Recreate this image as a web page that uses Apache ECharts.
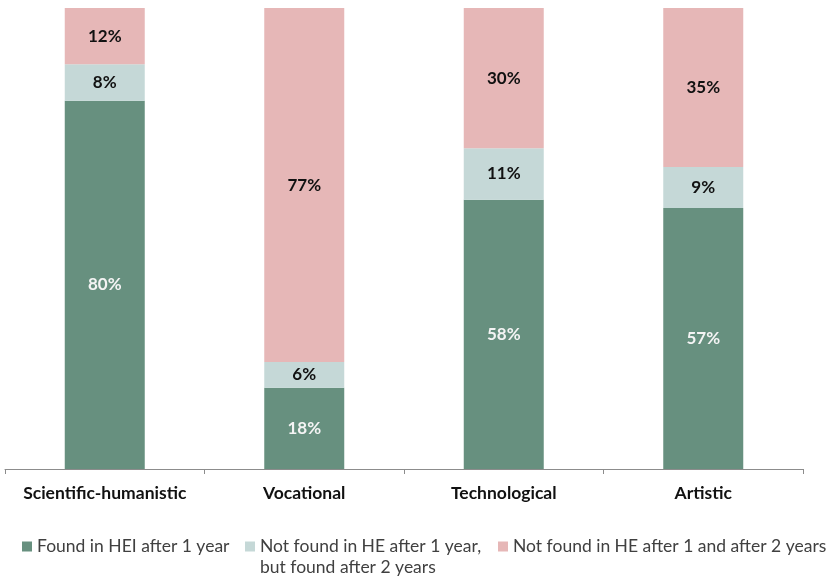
<!DOCTYPE html>
<html>
<head>
<meta charset="utf-8">
<script src="https://cdn.jsdelivr.net/npm/echarts@6/dist/echarts.min.js"></script>
<style>
  html, body { margin: 0; padding: 0; background: #fff; }
  #chart { width: 837px; height: 576px; }
</style>
</head>
<body>
<div id="chart"></div>
<script>
var categories = ['Scientific-humanistic', 'Vocational', 'Technological', 'Artistic'];
var seriesNames = [
  'Found in HEI after 1 year',
  'Not found in HE after 1 year, but found after 2 years',
  'Not found in HE after 1 and after 2 years'
];
var foundAfter1 = [79.9, 17.6, 58.4, 56.6];
var foundAfter2 = [7.9, 5.6, 11.2, 8.9];
var notFound = [12.2, 76.8, 30.4, 34.5];

var colors = ['#67907F', '#C5D8D7', '#E6B7B7'];
var labelColors = ['#F4F4F4', '#111111', '#111111'];
var FONT = 'Lato, "Open Sans", sans-serif';

var chart = echarts.init(document.getElementById('chart'), null, { renderer: 'canvas' });

function mkSeries(i, data) {
  return {
    name: seriesNames[i],
    type: 'bar',
    stack: 'total',
    data: data,
    barWidth: 80,
    itemStyle: { color: colors[i] },
    label: {
      show: true,
      position: 'inside',
      color: labelColors[i],
      fontFamily: FONT,
      fontWeight: 'bold',
      fontSize: 17,
      formatter: function (p) { return Math.round(p.value) + '%'; }
    },
    emphasis: { disabled: true }
  };
}

var legendText = {
  fontFamily: FONT,
  fontSize: 17.5,
  color: '#404040',
  lineHeight: 21
};

chart.setOption({
  animation: false,
  grid: { left: 5, right: 34, top: 8, bottom: 107, containLabel: false },
  xAxis: {
    type: 'category',
    data: categories,
    axisLine: { lineStyle: { color: '#8C8C8C', width: 1 } },
    axisTick: { show: true, interval: 0, length: 5, lineStyle: { color: '#8C8C8C' } },
    axisLabel: {
      interval: 0,
      hideOverlap: false,
      color: '#111111',
      fontFamily: FONT,
      fontWeight: 'bold',
      fontSize: 17.5,
      margin: 15
    }
  },
  yAxis: {
    type: 'value',
    min: 0,
    max: 100,
    show: false,
    splitLine: { show: false }
  },
  legend: [
    {
      data: [seriesNames[0]],
      left: 22, top: 536, padding: 0,
      itemWidth: 10, itemHeight: 10, icon: 'rect',
      textStyle: legendText
    },
    {
      data: [seriesNames[1]],
      left: 245, top: 515, padding: 0,
      itemWidth: 10, itemHeight: 10, icon: 'rect',
      textStyle: legendText,
      formatter: function () { return '\nNot found in HE after 1 year,\nbut found after 2 years'; }
    },
    {
      data: [seriesNames[2]],
      left: 498, top: 536, padding: 0,
      itemWidth: 10, itemHeight: 10, icon: 'rect',
      textStyle: legendText
    }
  ],
  series: [
    mkSeries(0, foundAfter1),
    mkSeries(1, foundAfter2),
    mkSeries(2, notFound)
  ]
});
</script>
</body>
</html>
